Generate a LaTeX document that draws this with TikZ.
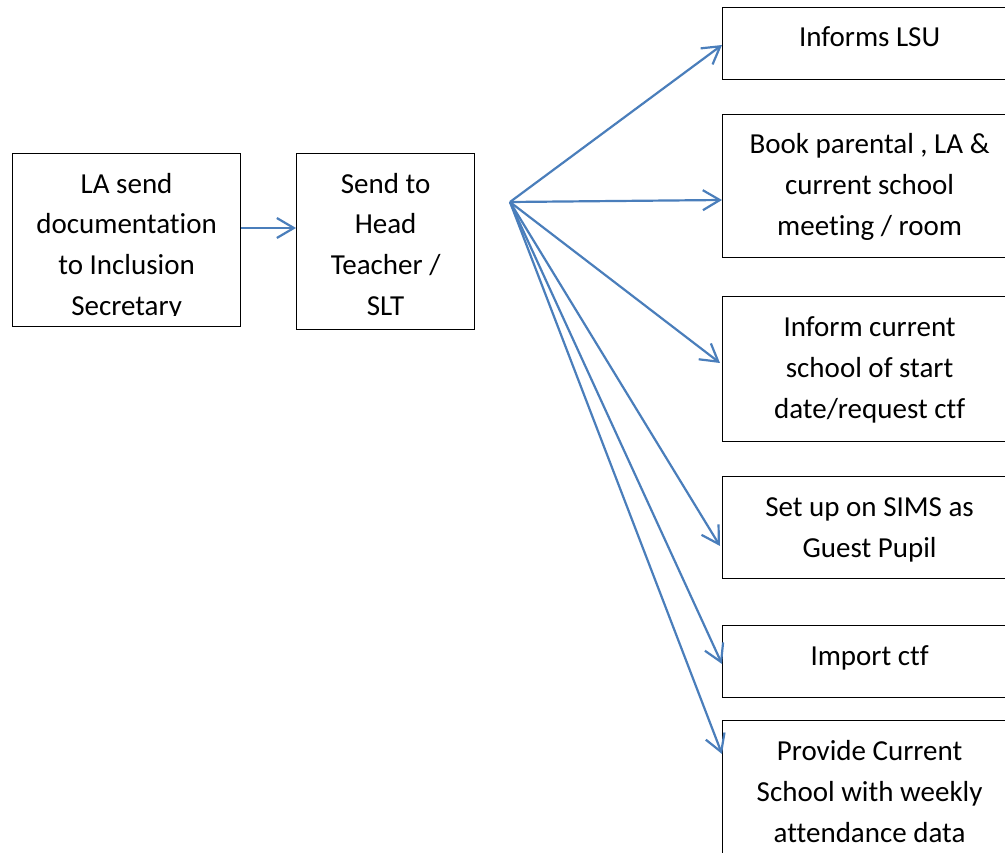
\documentclass[tikz,border=0pt]{standalone}
\usepackage{fontspec}
\setmainfont{Carlito}[Ligatures=NoCommon]
\usetikzlibrary{arrows.meta,calc}
\definecolor{arrowblue}{RGB}{74,126,187}
\begin{document}
\begin{tikzpicture}[x=1pt,y=-1pt,
  box/.style={draw=black,line width=1.2pt,fill=white,rectangle,inner sep=0pt,anchor=north west},
  txt/.style={font=\fontsize{29pt}{41pt}\selectfont,align=center,inner sep=0pt,anchor=base},
  conn/.style={draw=arrowblue,line width=2.2pt,-{Straight Barb[length=17pt,width=20pt,line width=2.2pt]}}]
\useasboundingbox (0,0) rectangle (1005,853);
\clip (0,0) rectangle (1005,853);
% left boxes
\node[box,minimum width=228pt,minimum height=173pt] (a) at (12,153) {};
\begin{scope}
\clip (12,153) rectangle (240,316);
\node[txt] (ta) at ($(a.north)+(0,163)$) {LA send\\documentation\\to Inclusion\\Secretary};
\end{scope}
\node[box,minimum width=178pt,minimum height=176pt] (b) at (296,153) {};
\node[txt] (tb) at ($(b.north)+(0,163)$) {Send to\\Head\\Teacher /\\SLT};
% right boxes
\node[box,minimum width=294pt,minimum height=72pt] (r1) at (722,7) {};
\node[txt] (t1) at ($(r1.north)+(0,40)$) {Informs LSU};
\node[box,minimum width=294pt,minimum height=143pt] (r2) at (722,114) {};
\node[txt] (t2) at ($(r2.north)+(0,122)$) {Book parental , LA \&\\current school\\meeting / room};
\node[box,minimum width=294pt,minimum height=145pt] (r3) at (722,296) {};
\node[txt] (t3) at ($(r3.north)+(0,122)$) {Inform current\\school of start\\date/request ctf};
\node[box,minimum width=294pt,minimum height=102pt] (r4) at (722,476) {};
\node[txt] (t4) at ($(r4.north)+(0,81)$) {Set up on SIMS as\\Guest Pupil};
\node[box,minimum width=294pt,minimum height=72pt] (r5) at (722,625) {};
\node[txt] (t5) at ($(r5.north)+(0,40)$) {Import ctf};
\node[box,minimum width=294pt,minimum height=160pt] (r6) at (722,720) {};
\node[txt] (t6) at ($(r6.north)+(0,122)$) {Provide Current\\School with weekly\\attendance data};
% connectors
\coordinate (f) at (510,202);
\draw[conn] (a.east |- 0,228) -- (b.west |- 0,228);
\draw[conn] (f) -- ($(r1.north west)+(0,38)$);
\draw[conn] (f) -- ($(r2.north west)+(0,86)$);
\draw[conn] (f) -- ($(r3.north west)+(-2,67)$);
\draw[conn] (f) -- ($(r4.north west)+(-2,70)$);
\draw[conn] (f) -- ($(r5.north west)+(0,39)$);
\draw[conn] (f) -- ($(r6.north west)+(0,34)$);
\end{tikzpicture}
\end{document}
